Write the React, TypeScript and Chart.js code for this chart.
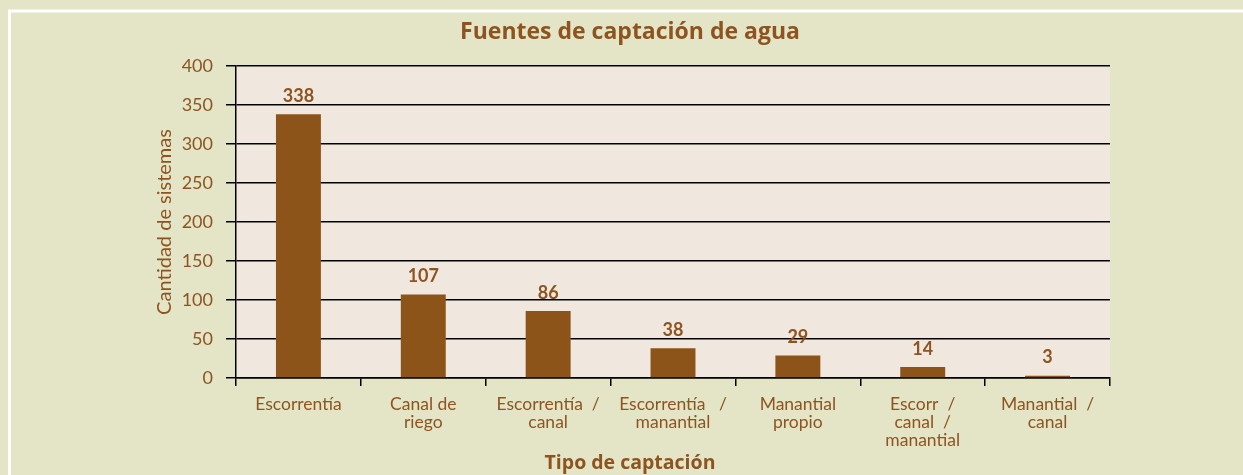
import React, { useEffect, useRef } from "react";
import { Chart, registerables } from "chart.js";

Chart.register(...registerables);

const categories: string[][] = [
  ["Escorrentía"],
  ["Canal de", "riego"],
  ["Escorrentía  /", "canal"],
  ["Escorrentía   /", "manantial"],
  ["Manantial", "propio"],
  ["Escorr  /", "canal  /", "manantial"],
  ["Manantial  /", "canal"],
];
const values: number[] = [338, 107, 86, 38, 29, 14, 3];
const yTicks: number[] = [0, 50, 100, 150, 200, 250, 300, 350, 400];

const titleText = "Fuentes de captación de agua";
const yTitle = "Cantidad de sistemas";
const xTitle = "Tipo de captación";

const BG = "#E4E5C7";
const PLOT_BG = "#F0E8DF";
const BAR = "#8D5419";
const TEXT = "#8E5420";
const FONT = "Lato";
const BOLD_FONT = "'Open Sans'";

const decorPlugin = {
  id: "decor",
  beforeDraw(chart: any) {
    const { ctx, chartArea, width, height } = chart;
    ctx.save();
    ctx.fillStyle = BG;
    ctx.fillRect(0, 0, width, height);
    ctx.strokeStyle = "#FFFFFF";
    ctx.lineWidth = 3;
    ctx.beginPath();
    ctx.moveTo(9.5, height + 2);
    ctx.lineTo(9.5, 11);
    ctx.lineTo(width + 2, 11);
    ctx.stroke();
    ctx.fillStyle = PLOT_BG;
    ctx.fillRect(chartArea.left, chartArea.top, chartArea.right - chartArea.left, chartArea.bottom - chartArea.top);
    ctx.restore();
  },
  afterDatasetsDraw(chart: any) {
    const { ctx } = chart;
    const meta = chart.getDatasetMeta(0);
    ctx.save();
    ctx.fillStyle = TEXT;
    ctx.font = `bold 18px ${FONT}`;
    ctx.textAlign = "center";
    ctx.textBaseline = "middle";
    meta.data.forEach((bar: any, i: number) => {
      ctx.fillText(String(values[i]), bar.x, bar.y - 18);
    });
    ctx.restore();
  },
};

export default function App() {
  const ref = useRef<HTMLCanvasElement | null>(null);
  useEffect(() => {
    document.body.style.margin = "0";
    const chart = new Chart(ref.current!, {
      type: "bar",
      data: {
        labels: categories,
        datasets: [
          {
            data: values,
            backgroundColor: BAR,
            borderWidth: 0,
            barPercentage: 0.36,
            categoryPercentage: 1,
          },
        ],
      },
      plugins: [decorPlugin],
      options: {
        animation: false,
        responsive: true,
        maintainAspectRatio: false,
        layout: { padding: { left: 150, right: 133, top: 19, bottom: 0 } },
        plugins: {
          legend: { display: false },
          tooltip: { enabled: false },
          title: {
            display: true,
            text: titleText,
            color: TEXT,
            font: { family: BOLD_FONT, size: 23, weight: "bold" },
            padding: { top: 0, bottom: 19.4 },
          },
          subtitle: {
            display: true,
            position: "bottom",
            text: xTitle,
            color: TEXT,
            font: { family: BOLD_FONT, size: 19.5, weight: "bold" },
            padding: { top: 0, bottom: 0 },
          },
        },
        scales: {
          x: {
            offset: true,
            grid: {
              offset: true,
              drawOnChartArea: false,
              drawTicks: true,
              tickLength: 8,
              color: "#000",
              lineWidth: 1.5,
            },
            border: { display: true, color: "#000", width: 1.5 },
            ticks: {
              color: TEXT,
              font: { family: FONT, size: 17.5, lineHeight: 1.03 },
              padding: 9,
              maxRotation: 0,
              autoSkip: false,
            },
            afterFit(scale: any) {
              scale.height = 73.6;
            },
          },
          y: {
            min: 0,
            max: 400,
            afterBuildTicks(scale: any) {
              scale.ticks = yTicks.map((v) => ({ value: v }));
            },
            grid: {
              color: "#000",
              lineWidth: 1.5,
              drawTicks: true,
              tickLength: 10,
            },
            border: { display: true, color: "#000", width: 1.5 },
            ticks: {
              color: TEXT,
              font: { family: FONT, size: 18 },
              padding: 13,
            },
            title: {
              display: true,
              text: yTitle,
              color: TEXT,
              font: { family: FONT, size: 20 },
              padding: { top: 3, bottom: 0 },
            },
            afterFit(scale: any) {
              scale.width = 86;
            },
          },
        },
      },
    });
    return () => chart.destroy();
  }, []);
  return (
    <div style={{ width: 1243, height: 475, position: "relative" }}>
      <canvas ref={ref} />
    </div>
  );
}
